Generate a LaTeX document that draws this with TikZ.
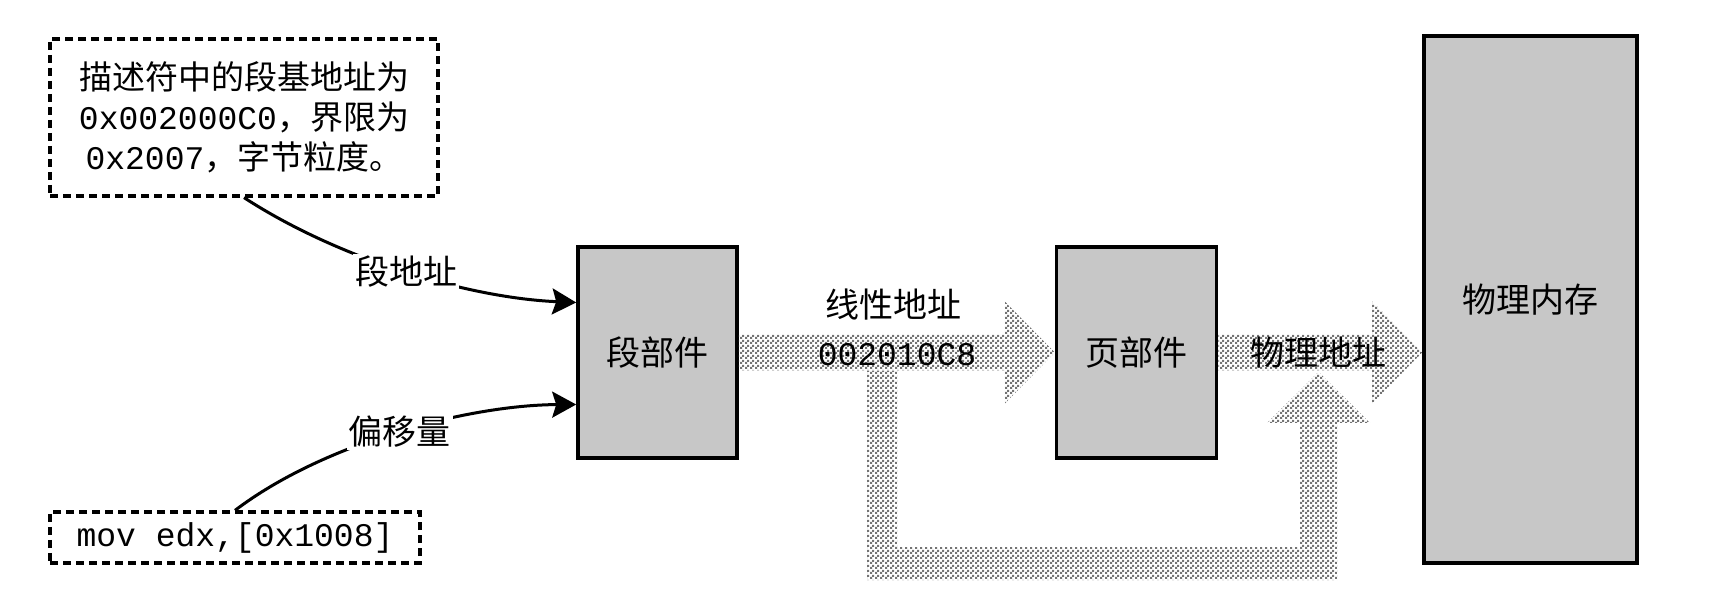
\documentclass[tikz,border=0pt]{standalone}
\usepackage{fontspec}
\setmainfont{Noto Sans CJK SC}
\setmonofont{Liberation Mono}
\usetikzlibrary{positioning,arrows.meta,calc,patterns.meta}

\tikzdeclarepattern{
  name=finecheck,
  type=uncolored,
  bottom left={(0pt,0pt)},
  top right={(2.5pt,2.5pt)},
  tile size={(2.5pt,2.5pt)},
  code={
    \fill (0pt,0pt) rectangle (1.25pt,1.25pt);
    \fill (1.25pt,1.25pt) rectangle (2.5pt,2.5pt);
  }
}

\newcommand{\hexcode}[1]{{\ttfamily\fontsize{16.5pt}{20pt}\selectfont #1}}

\begin{document}
\begin{tikzpicture}[
  x=0.5pt, y=-0.5pt,
  font=\fontsize{17pt}{20pt}\selectfont,
  unit/.style={draw, line width=1.8pt, fill=gray!44, inner sep=0pt},
  note/.style={draw, line width=1.6pt, dash pattern=on 4pt off 2.5pt, align=center, inner sep=0pt},
  arr/.style={-{Stealth[length=12pt,width=13pt,inset=2pt]}, line width=1.5pt},
  hatch/.style={pattern=finecheck, pattern color=black!55},
  lbl/.style={fill=white, inner sep=1pt},
]
  \useasboundingbox (0,0) rectangle (1710,609);

  % boxes
  \node[unit, minimum width=79.5pt, minimum height=105.5pt] (segunit) at (657.5,352.5) {段部件};
  \node[unit, minimum width=80pt, minimum height=105.5pt, right=158pt of segunit] (pageunit) {页部件};
  \node[unit, minimum width=106.5pt, minimum height=263.5pt] (memory) at (1530.5,299.5) {物理内存};

  \node[note, minimum width=194pt, minimum height=78.5pt, font=\fontsize{16.5pt}{20pt}\selectfont] (desc) at (244,117.5)
    {描述符中的段基地址为\\ \hexcode{0x002000C0}，界限为\\ \hexcode{0x2007}，字节粒度。};
  \node[note, minimum width=185pt, minimum height=25.5pt] (instr) at (235,537.5) {\hexcode{mov edx,[0x1008]}};

  % inputs of the segment unit
  \draw[arr] (desc.south) .. controls (340,260) and (470,298) .. ([yshift=25pt]segunit.west)
    node[lbl, pos=0.5] (segaddr) {段地址};
  \draw[arr] (instr.north) .. controls (325,442) and (470,405) .. ([yshift=-26pt]segunit.west)
    node[lbl, pos=0.5] (offset) {偏移量};

  % wide arrows
  \coordinate (mtip) at (memory.west |- pageunit.east);
  \coordinate (fork) at (882,371);
  \coordinate (merge) at (1318.5,372);
  \fill[hatch] ($(fork)+(-15,0)$) |- ($(merge)+(18.5,208)$) -- ($(merge)+(18.5,51)$)
    -- ($(merge)+(51.5,51)$) -- (merge) -- ($(merge)+(-51.5,51)$) -- ($(merge)+(-18.5,51)$)
    |- ($(fork)+(15,176)$) -- ($(fork)+(15,0)$) -- cycle;
  \fill[hatch] ($(segunit.east)+(0,-18)$) -- ($(pageunit.west)+(-50,-18)$) -- ($(pageunit.west)+(-50,-51)$)
    -- (pageunit.west) -- ($(pageunit.west)+(-50,51)$) -- ($(pageunit.west)+(-50,18)$)
    -- ($(segunit.east)+(0,18)$) -- cycle;
  \fill[hatch] ($(pageunit.east)+(0,-18)$) -- ($(mtip)+(-50,-18)$) -- ($(mtip)+(-50,-51)$)
    -- (mtip) -- ($(mtip)+(-50,51)$) -- ($(mtip)+(-50,18)$)
    -- ($(pageunit.east)+(0,18)$) -- cycle;

  \node (linlabel) at (893,305) {线性地址};
  \node (linaddr) at (897,355) {\hexcode{002010C8}};
  \node (physaddr) at (1318,353) {物理地址};
\end{tikzpicture}
\end{document}
